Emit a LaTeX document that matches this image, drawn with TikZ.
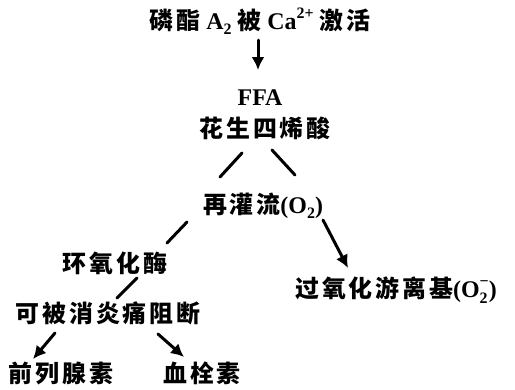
\documentclass[tikz,border=0pt]{standalone}
\usepackage{fontspec}
\setmainfont{Liberation Serif}
\newfontfamily\cjk{Noto Sans CJK SC}[LetterSpace=12]
\usetikzlibrary{arrows.meta}
\newcommand{\sbs}[1]{\raisebox{-0.22em}{\fontsize{16}{16}\selectfont #1}}
\newcommand{\sps}[1]{\raisebox{0.45em}{\fontsize{16}{16}\selectfont #1}}
\begin{document}
\begin{tikzpicture}[x=1bp,y=-1bp,
  lbl/.style={inner sep=0pt,font=\fontsize{24}{26}\selectfont\bfseries},
  conn/.style={line width=3bp,line cap=round},
  arr/.style={conn,-{Latex[length=13bp,width=13bp]}}]
\useasboundingbox (0,0) rectangle (515,389);
\node[lbl] (t) at (260,21) {{\cjk 磷酯} A\sbs{2} {\cjk 被} Ca\sps{2+} {\cjk 激活}};
\node[lbl] (ffa) at (260,98) {FFA};
\node[lbl] (aa) at (265,128) {\cjk 花生四烯酸};
\node[lbl] (rp) at (263,206) {{\cjk 再灌流}(O\sbs{2})};
\node[lbl] (cox) at (115,263) {\cjk 环氧化酶};
\node[lbl] (ind) at (108,313) {\cjk 可被消炎痛阻断};
\node[lbl] (pg) at (61,373) {\cjk 前列腺素};
\node[lbl] (tx) at (202,373) {\cjk 血栓素};
\node[lbl] (ox) at (396,290) {{\cjk 过氧化游离基}(O\rlap{\sbs{2}}\sps{\textminus})};
\coordinate (a1) at (258,40); \coordinate (a2) at (258,70);
\coordinate (l1) at (242,153); \coordinate (l2) at (220,177);
\coordinate (r1) at (272,150); \coordinate (r2) at (295,175);
\coordinate (c1) at (187,222); \coordinate (c2) at (167,243);
\coordinate (d1) at (137,278); \coordinate (d2) at (117,298);
\coordinate (p1) at (55,333); \coordinate (p2) at (33,359);
\coordinate (q1) at (158,334); \coordinate (q2) at (184,357);
\coordinate (o1) at (323,220); \coordinate (o2) at (348,268);
\draw[arr] (a1) -- (a2);
\draw[conn] (l1) -- (l2);
\draw[conn] (r1) -- (r2);
\draw[conn] (c1) -- (c2);
\draw[conn] (d1) -- (d2);
\draw[arr] (p1) -- (p2);
\draw[arr] (q1) -- (q2);
\draw[arr] (o1) -- (o2);
\end{tikzpicture}
\end{document}
